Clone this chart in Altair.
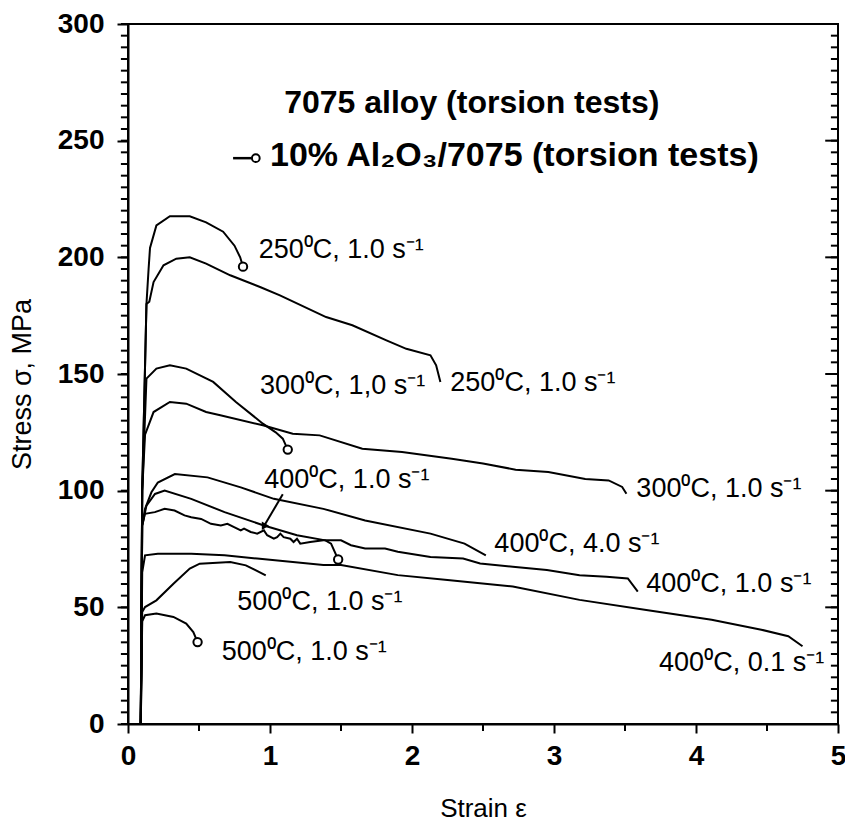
import altair as alt
import pandas as pd

# ---------------- curve data (strain, stress MPa) ----------------
c250_comp_x = [0.09, 0.10, 0.13, 0.145, 0.155, 0.20, 0.295, 0.435, 0.55, 0.67, 0.75, 0.79, 0.81]
c250_comp_y = [0, 100, 180, 195, 204, 213.7, 217.6, 217.6, 215, 211, 205, 200, 196]

c250_alloy_x = [0.09, 0.10, 0.13, 0.15, 0.18, 0.25, 0.34, 0.435, 0.55, 0.72, 0.93, 1.07, 1.395, 1.58, 1.82, 1.96, 2.13, 2.17, 2.2]
c250_alloy_y = [0, 100, 180, 181, 189.4, 196.6, 199.4, 200, 197.3, 192.3, 187.3, 183.7, 174.4, 170.9, 164.4, 160.8, 158, 153.7, 146.6]

c300_comp_x = [0.09, 0.10, 0.13, 0.2, 0.295, 0.41, 0.6, 0.76, 0.95, 1.04, 1.09, 1.125]
c300_comp_y = [0, 100, 148, 152.3, 153.7, 152.3, 146.6, 138, 128.7, 125, 122.3, 117.6]

c300_alloy_x = [0.09, 0.10, 0.12, 0.18, 0.295, 0.41, 0.55, 0.65, 0.95, 1.16, 1.35, 1.65, 1.93, 2.28, 2.5, 2.73, 2.96, 3.22, 3.385, 3.48, 3.51]
c300_alloy_y = [0, 100, 124, 133.7, 138, 137.3, 133.7, 132.3, 128, 124.4, 123.7, 118, 116.6, 113.7, 111.6, 109, 108, 105, 104.4, 101.6, 98.7]

c400_4_alloy_x = [0.09, 0.10, 0.12, 0.165, 0.21, 0.33, 0.56, 0.794, 1.027, 1.376, 1.67, 2.13, 2.37, 2.52]
c400_4_alloy_y = [0, 85, 92.2, 99.3, 103.5, 107.1, 105.7, 101.4, 96.5, 92.2, 87.2, 81.6, 77.3, 72.3]

c400_1_comp_x = [0.09, 0.10, 0.13, 0.19, 0.258, 0.445, 0.68, 0.957, 1.19, 1.39, 1.43, 1.48]
c400_1_comp_y = [0, 85, 93.6, 98.6, 100, 96.5, 90.8, 85.1, 80.9, 78.7, 77.3, 70.5]

c400_1_alloy_x = [0.09, 0.10, 0.119, 0.189, 0.258, 0.328, 0.398, 0.445, 0.515, 0.584, 0.654, 0.70, 0.747,
                  0.794, 0.817, 0.864, 0.91, 0.957, 0.98, 1.027, 1.05, 1.073, 1.096, 1.143, 1.166, 1.19,
                  1.213, 1.283, 1.376, 1.50, 1.57, 1.67, 1.81, 1.90, 2.13, 2.36, 2.48, 2.71, 2.95, 3.18,
                  3.37, 3.52, 3.59]
c400_1_alloy_y = [0, 85, 90.1, 90.8, 92.2, 91.5, 89.4, 88.6, 87.9, 85.8, 85.1, 85.8, 84.4,
                  83.0, 83.7, 82.3, 81.6, 83.0, 80.9, 79.4, 80.1, 81.6, 80.1, 79.4, 78.0, 79.4,
                  77.3, 78.0, 78.7, 78.7, 76.6, 75.2, 75.2, 73.8, 71.6, 70.9, 68.8, 67.4, 66.0, 63.8,
                  63.1, 62.4, 56.7]

c400_01_alloy_x = [0.09, 0.10, 0.12, 0.21, 0.445, 0.68, 0.91, 1.376, 1.50, 1.90, 2.25, 2.71, 3.18, 3.65, 4.11, 4.46, 4.65, 4.75]
c400_01_alloy_y = [0, 65, 72.3, 73.0, 73.0, 72.3, 70.9, 68.1, 68.1, 63.8, 61.7, 58.9, 53.2, 48.9, 44.7, 40.4, 37.6, 33.3]

c500_alloy_x = [0.09, 0.10, 0.12, 0.2, 0.32, 0.435, 0.505, 0.72, 0.83, 0.97]
c500_alloy_y = [0, 48, 50.1, 53, 60.1, 66.6, 68.7, 69.4, 68, 63.7]

c500_comp_x = [0.09, 0.10, 0.12, 0.2, 0.32, 0.41, 0.46, 0.49]
c500_comp_y = [0, 44, 46.6, 47.3, 45.9, 43, 39.4, 35.1]

curves = [
    ("250 comp", c250_comp_x, c250_comp_y),
    ("250 alloy", c250_alloy_x, c250_alloy_y),
    ("300 comp", c300_comp_x, c300_comp_y),
    ("300 alloy", c300_alloy_x, c300_alloy_y),
    ("400 4.0 alloy", c400_4_alloy_x, c400_4_alloy_y),
    ("400 1.0 comp", c400_1_comp_x, c400_1_comp_y),
    ("400 1.0 alloy", c400_1_alloy_x, c400_1_alloy_y),
    ("400 0.1 alloy", c400_01_alloy_x, c400_01_alloy_y),
    ("500 alloy", c500_alloy_x, c500_alloy_y),
    ("500 comp", c500_comp_x, c500_comp_y),
]

# composite curve end markers (open circles)
end_x = [0.81, 1.125, 1.48, 0.49]
end_y = [196, 117.6, 70.5, 35.1]

# curve labels
label_text = ["250⁰C, 1.0 s⁻¹", "250⁰C, 1.0 s⁻¹", "300⁰C, 1,0 s⁻¹", "300⁰C, 1.0 s⁻¹",
              "400⁰C, 1.0 s⁻¹", "400⁰C, 4.0 s⁻¹", "400⁰C, 1.0 s⁻¹", "400⁰C, 0.1 s⁻¹",
              "500⁰C, 1.0 s⁻¹", "500⁰C, 1.0 s⁻¹"]
label_x = [0.92, 2.27, 0.93, 3.58, 0.96, 2.58, 3.65, 3.74, 0.77, 0.66]
label_y = [203, 146, 144.7, 100.9, 104.5, 77.0, 59.8, 26.3, 52.3, 31.0]

# arrow from "400C 1.0" label to composite curve
arrow_x = [1.09, 0.955]
arrow_y = [98.5, 84.5]

# legend
legend_text = ["7075 alloy (torsion tests)", "10% Al₂O₃/7075 (torsion tests)"]
legend_size = [32, 34]
legend_x = [1.10, 1.0]
legend_y = [266, 243.4]
legend_sym_x = [0.74, 0.87]
legend_sym_y = [242.5, 242.5]
legend_circle_x = [0.9]
legend_circle_y = [242.5]

x_major = [0, 1, 2, 3, 4, 5]
x_minor = [0.5, 1.5, 2.5, 3.5, 4.5]
y_major = [0, 50, 100, 150, 200, 250, 300]
y_minor = [v for v in range(0, 301, 5)]

# tick lengths expressed in axis units (strain for horizontal ticks, MPa for vertical ticks)
MINOR_LEN_X = 0.05    # ~7 px
MAJOR_LEN_X = 0.09    # ~13 px
MINOR_LEN_Y = 3.0     # ~7 px

# ---------------- build tables ----------------
rows = []
for name, xs, ys in curves:
    for i, (xv, yv) in enumerate(zip(xs, ys)):
        rows.append({"curve": name, "x": xv, "y": yv, "order": i})
df_curves = pd.DataFrame(rows)
df_ends = pd.DataFrame({"x": end_x, "y": end_y})
df_labels = pd.DataFrame({"x": label_x, "y": label_y, "text": label_text})
df_arrow = pd.DataFrame({"x": arrow_x, "y": arrow_y, "order": [0, 1]})
df_arrow_head = pd.DataFrame({"x": arrow_x[-1:], "y": arrow_y[-1:]})
df_legend = pd.DataFrame({"x": legend_x, "y": legend_y, "text": legend_text, "size": legend_size})
df_leg_sym = pd.DataFrame({"x": legend_sym_x, "y": legend_sym_y, "order": [0, 1]})
df_leg_circ = pd.DataFrame({"x": legend_circle_x, "y": legend_circle_y})

# ticks drawn as two-point line segments
tick_rows = []
tid = 0


def add_tick(x1, y1, x2, y2):
    global tid
    tick_rows.append({"id": tid, "x": x1, "y": y1, "order": 0})
    tick_rows.append({"id": tid, "x": x2, "y": y2, "order": 1})
    tid += 1


for v in y_minor:
    add_tick(-MINOR_LEN_X, v, 0.0, v)
    add_tick(5 - MINOR_LEN_X, v, 5.0, v)
for v in y_major:
    add_tick(5 - MAJOR_LEN_X, v, 5.0, v)
for v in x_minor:
    add_tick(v, -MINOR_LEN_Y, v, 0.0)
df_ticks = pd.DataFrame(tick_rows)

W, H = 710, 700
FONT = "Liberation Sans"
xscale = alt.Scale(domain=[0, 5], nice=False, zero=False)
yscale = alt.Scale(domain=[0, 300], nice=False, zero=False)

main_x_axis = alt.Axis(values=x_major, tickSize=9, tickWidth=2, tickColor="black",
                       domainColor="black", domainWidth=2, labelFontSize=28, labelFont=FONT,
                       labelFontWeight="bold", labelColor="black", labelPadding=9,
                       title="Strain ε", titleFont=FONT, titleFontSize=26, titleFontWeight="normal",
                       titleColor="black", titleX=W / 2, titleY=84, titleBaseline="middle",
                       grid=False, labelFlush=False)
main_y_axis = alt.Axis(values=y_major, tickSize=11, tickWidth=2, tickColor="black",
                       domainColor="black", domainWidth=2, labelFontSize=28, labelFont=FONT,
                       labelFontWeight="bold", labelColor="black", labelPadding=13,
                       title="Stress σ, MPa", titleFont=FONT, titleFontSize=27,
                       titleFontWeight="normal", titleColor="black", titleX=-106,
                       titleY=H / 2 + 10, titleBaseline="middle", titleAngle=270,
                       grid=False, labelFlush=False)


def X(axis=None):
    return alt.X("x:Q", scale=xscale, axis=axis)


def Y(axis=None):
    return alt.Y("y:Q", scale=yscale, axis=axis)


lines = alt.Chart(df_curves).mark_line(color="black", strokeWidth=2).encode(
    x=X(main_x_axis), y=Y(main_y_axis), detail="curve:N", order="order:Q")

ticks = alt.Chart(df_ticks).mark_line(color="black", strokeWidth=2, clip=False).encode(
    x=X(), y=Y(), detail="id:N", order="order:Q")

ends = alt.Chart(df_ends).mark_point(shape="circle", filled=True, fill="white", stroke="black",
                                     strokeWidth=2, size=70, opacity=1).encode(x=X(), y=Y())

labels = alt.Chart(df_labels).mark_text(align="left", baseline="middle", fontSize=27, font=FONT,
                                        color="black").encode(x=X(), y=Y(), text="text:N")

arrow = alt.Chart(df_arrow).mark_line(color="black", strokeWidth=2).encode(
    x=X(), y=Y(), order="order:Q")
arrow_head = alt.Chart(df_arrow_head).mark_point(shape="triangle-up", filled=True, color="black",
                                                 size=70, angle=210, opacity=1).encode(x=X(), y=Y())

legend_txt = alt.Chart(df_legend).mark_text(align="left", baseline="middle", font=FONT,
                                            fontWeight="bold", color="black").encode(
    x=X(), y=Y(), text="text:N", size=alt.Size("size:Q", scale=None, legend=None))
legend_line = alt.Chart(df_leg_sym).mark_line(color="black", strokeWidth=2.5).encode(
    x=X(), y=Y(), order="order:Q")
legend_circ = alt.Chart(df_leg_circ).mark_point(shape="circle", filled=True, fill="white",
                                                stroke="black", strokeWidth=2, size=60,
                                                opacity=1).encode(x=X(), y=Y())

chart = alt.layer(
    lines, ticks, arrow, arrow_head, ends, labels,
    legend_line, legend_circ, legend_txt
).resolve_axis(x="independent", y="independent").properties(
    width=W, height=H,
    background="white",
    autosize=alt.AutoSizeParams(type="none"),
    padding={"left": 120, "top": 16, "right": 7, "bottom": 99},
).configure_view(stroke="black", strokeWidth=2)

chart.save("out.html", embed_options={"renderer": "svg", "actions": False})
